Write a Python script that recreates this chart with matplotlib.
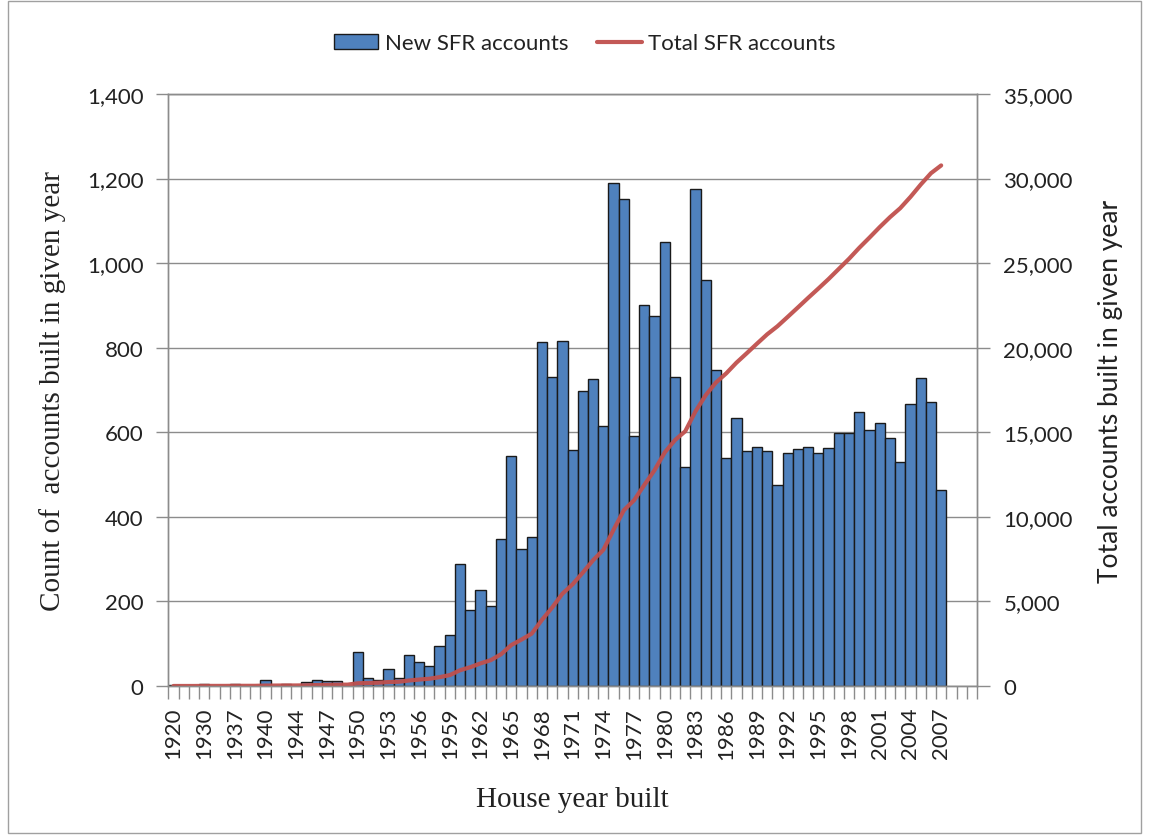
import numpy as np
import matplotlib
matplotlib.use('Agg')
import matplotlib.pyplot as plt
from matplotlib.patches import Rectangle
from matplotlib.ticker import FuncFormatter

# house year categories (pre-1950 years are grouped irregularly)
years = ['1920', '1925', '1928', '1930', '1933', '1935', '1937', '1938', '1939',
         '1940', '1941', '1942', '1944', '1945', '1946', '1947', '1948', '1949'] + \
        [str(y) for y in range(1950, 2008)] + ['', '', '']

# new single family residence accounts per year
new_sfr = [2, 0, 0, 5, 0, 0, 5, 0, 0,
           15, 0, 5, 0, 10, 15, 12, 12, 0,
           80, 18, 15, 40, 18, 73, 57, 48, 94, 121,
           288, 179, 227, 190, 347, 544, 325, 352, 813, 731,
           817, 557, 697, 727, 614, 1189, 1151, 591, 902, 876,
           1050, 731, 519, 1175, 959, 747, 539, 633, 555, 566,
           555, 475, 552, 560, 566, 552, 564, 599, 599, 649,
           605, 621, 586, 530, 666, 728, 672, 463]

# running total of accounts
total_sfr = [2, 2, 2, 7, 7, 7, 12, 12, 12,
             27, 27, 32, 32, 42, 57, 69, 81, 81,
             161, 179, 194, 234, 252, 325, 382, 430, 524, 645,
             933, 1112, 1339, 1529, 1876, 2420, 2745, 3097, 3910, 4641,
             5458, 6015, 6712, 7439, 8053, 9242, 10393, 10984, 11886, 12762,
             13812, 14543, 15062, 16237, 17196, 17943, 18482, 19115, 19670, 20236,
             20791, 21266, 21818, 22378, 22944, 23496, 24060, 24659, 25258, 25907,
             26512, 27133, 27719, 28249, 28915, 29643, 30315, 30778]

BLUE = '#4F81BD'
RED = '#C0504D'
GRID = '#8C8C8C'
TXT = '#222222'

plt.rcParams['font.family'] = ['Lato', 'DejaVu Sans']

fig = plt.figure(figsize=(11.49, 8.37), dpi=100)
ax = fig.add_axes([0.1465, 0.1792, 0.7038, 0.7073])
ax2 = ax.twinx()

n = len(years)
x = np.arange(len(new_sfr))
ax.bar(x, new_sfr, width=1.0, color=BLUE, edgecolor='#1a1a1a', linewidth=1.0,
       label='New SFR accounts', zorder=2)
ax2.plot(x, total_sfr, color=RED, linewidth=3.0, alpha=0.95,
         solid_capstyle='round', label='Total SFR accounts')

ax.set_xlim(-0.5, n - 0.5)
ax.set_ylim(0, 1400)
ax2.set_ylim(0, 35000)
ax.set_yticks(np.arange(0, 1401, 200))
ax2.set_yticks(np.arange(0, 35001, 5000))
fmt = FuncFormatter(lambda v, p: '{:,.0f}'.format(v))
ax.yaxis.set_major_formatter(fmt)
ax2.yaxis.set_major_formatter(fmt)

# tick marks on every category boundary, labels on every third category
ax.set_xticks(np.arange(n + 1) - 0.5)
ax.set_xticklabels([])
ax.set_xticks(np.arange(0, n, 3), [years[i] for i in range(0, n, 3)], minor=True)
ax.tick_params(axis='x', which='major', length=9, width=1, color=GRID, direction='out')
ax.tick_params(axis='x', which='minor', length=0, pad=15, labelsize=16,
               labelrotation=90, labelcolor=TXT)
ax.tick_params(axis='y', length=9, width=1, color=GRID, pad=9, labelsize=16,
               labelcolor=TXT)
ax2.tick_params(axis='y', length=9, width=1, color=GRID, pad=10, labelsize=16,
                labelcolor=TXT)

ax.grid(axis='y', color=GRID, linewidth=1.0, zorder=0)
ax.set_axisbelow(True)
for a in (ax, ax2):
    for s in a.spines.values():
        s.set_color(GRID)
        s.set_linewidth(1.0)

ax.set_ylabel('Count of  accounts built in given year', family='Liberation Serif',
              fontsize=21, color=TXT, labelpad=15)
ax.set_xlabel('House year built', family='Liberation Serif', fontsize=21,
              color=TXT, labelpad=20)
ax2.set_ylabel('Total accounts built in given year', fontsize=19, color=TXT,
               labelpad=18)

h1, l1 = ax.get_legend_handles_labels()
h2, l2 = ax2.get_legend_handles_labels()
fig.legend(h1 + h2, l1 + l2, loc='center', bbox_to_anchor=(0.509, 0.947), ncol=2,
           frameon=False, fontsize=16, handlelength=2.0, handleheight=0.7,
           handletextpad=0.3, columnspacing=1.3, labelcolor=TXT)

# chart area border
fig.patches.append(Rectangle((0.007, 0.004), 0.986, 0.994, transform=fig.transFigure,
                             fill=False, edgecolor='#A0A0A0', linewidth=1.0))

fig.savefig('out.png', dpi=100)
